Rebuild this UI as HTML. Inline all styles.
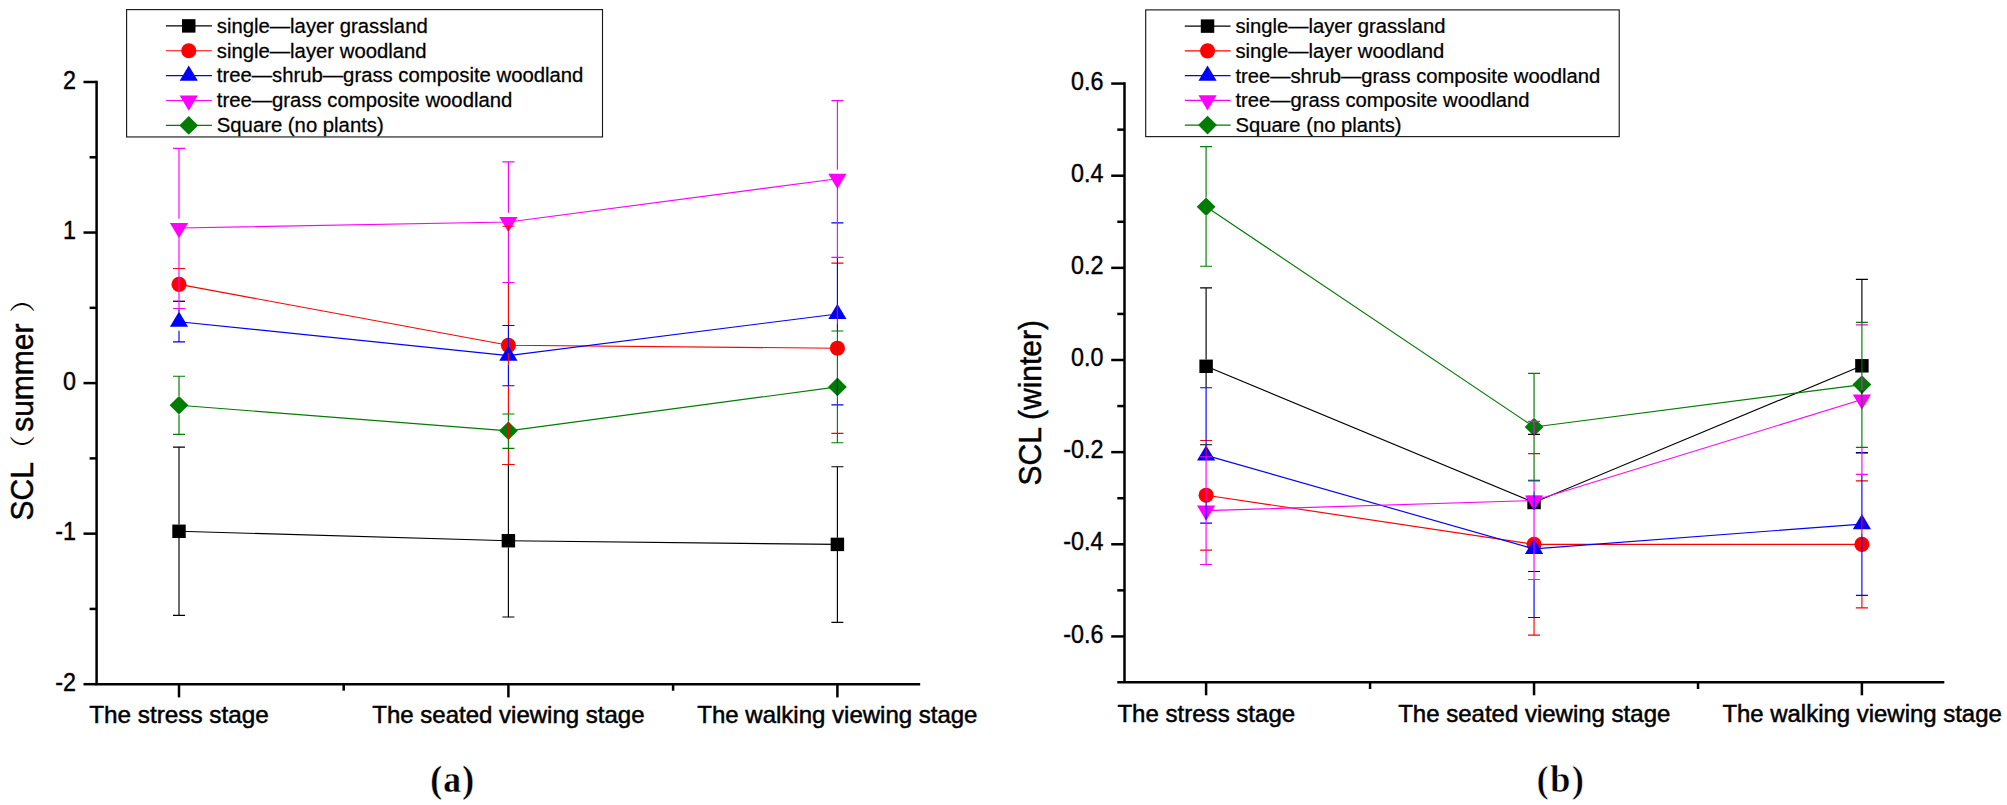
<!DOCTYPE html>
<html lang="en"><head><meta charset="utf-8"><title>SCL summer and winter</title>
<style>html,body{margin:0;padding:0;background:#fff}svg{display:block}</style></head>
<body>
<svg width="2007" height="805" viewBox="0 0 2007 805">
<rect width="2007" height="805" fill="#fff"/>
<polyline points="179.00,531.30 508.40,540.70 837.40,544.40" fill="none" stroke="#000000" stroke-width="1.15"/>
<rect x="172.28" y="524.57" width="13.45" height="13.45" fill="#000000"/>
<rect x="501.67" y="533.98" width="13.45" height="13.45" fill="#000000"/>
<rect x="830.67" y="537.67" width="13.45" height="13.45" fill="#000000"/>
<polyline points="179.00,284.40 508.40,345.30 837.40,348.20" fill="none" stroke="#ff0000" stroke-width="1.15"/>
<circle cx="179.00" cy="284.40" r="7.55" fill="#ff0000"/>
<circle cx="508.40" cy="345.30" r="7.55" fill="#ff0000"/>
<circle cx="837.40" cy="348.20" r="7.55" fill="#ff0000"/>
<polyline points="179.00,321.70 508.40,355.60 837.40,314.00" fill="none" stroke="#0000ff" stroke-width="1.15"/>
<polygon points="179.00,311.50 169.90,326.80 188.10,326.80" fill="#0000ff"/>
<polygon points="508.40,345.40 499.30,360.70 517.50,360.70" fill="#0000ff"/>
<polygon points="837.40,303.80 828.30,319.10 846.50,319.10" fill="#0000ff"/>
<polyline points="179.00,228.00 508.40,222.00 837.40,178.80" fill="none" stroke="#ff00ff" stroke-width="1.15"/>
<polygon points="179.00,238.20 169.90,222.90 188.10,222.90" fill="#ff00ff"/>
<polygon points="508.40,232.20 499.30,216.90 517.50,216.90" fill="#ff00ff"/>
<polygon points="837.40,189.00 828.30,173.70 846.50,173.70" fill="#ff00ff"/>
<polyline points="179.00,405.30 508.40,430.80 837.40,386.90" fill="none" stroke="#007c00" stroke-width="1.15"/>
<polygon points="179.00,396.00 188.40,405.30 179.00,414.60 169.60,405.30" fill="#007c00"/>
<polygon points="508.40,421.50 517.80,430.80 508.40,440.10 499.00,430.80" fill="#007c00"/>
<polygon points="837.40,377.60 846.80,386.90 837.40,396.20 828.00,386.90" fill="#007c00"/>
<path d="M179.00,447.10V524.60M179.00,538.00V615.40M173.00,447.10h12M173.00,615.40h12" fill="none" stroke="#000000" stroke-width="1.15"/>
<path d="M508.40,464.50V534.00M508.40,547.40V617.00M502.40,464.50h12M502.40,617.00h12" fill="none" stroke="#000000" stroke-width="1.15"/>
<path d="M837.40,466.70V537.70M837.40,551.10V622.30M831.40,466.70h12M831.40,622.30h12" fill="none" stroke="#000000" stroke-width="1.15"/>
<path d="M173.00,268.50h12M173.00,301.20h12" fill="none" stroke="#ff0000" stroke-width="1.15"/>
<path d="M508.40,226.20V231.15M508.40,282.50V325.50M508.40,352.80V364.75M508.40,385.70V414.00M508.40,421.50V440.10M508.40,448.30V464.50M502.40,226.20h12M502.40,464.50h12" fill="none" stroke="#ff0000" stroke-width="1.15"/>
<path d="M837.40,304.85V323.15M831.40,263.10h12M831.40,433.40h12" fill="none" stroke="#ff0000" stroke-width="1.15"/>
<path d="M179.00,308.50V312.55M179.00,330.85V341.80M173.00,301.40h12M173.00,341.80h12" fill="none" stroke="#0000ff" stroke-width="1.15"/>
<path d="M508.40,325.50V346.45M508.40,364.75V385.70M502.40,325.50h12M502.40,385.70h12" fill="none" stroke="#0000ff" stroke-width="1.15"/>
<path d="M837.40,257.30V304.85M837.40,323.15V331.00M837.40,377.60V396.20M831.40,222.90h12M831.40,404.90h12" fill="none" stroke="#0000ff" stroke-width="1.15"/>
<path d="M179.00,148.40V218.85M179.00,237.15V308.50M173.00,148.40h12M173.00,308.50h12" fill="none" stroke="#ff00ff" stroke-width="1.15"/>
<path d="M508.40,161.80V212.85M508.40,231.15V282.50M502.40,161.80h12M502.40,282.50h12" fill="none" stroke="#ff00ff" stroke-width="1.15"/>
<path d="M837.40,100.60V169.65M837.40,187.95V257.30M831.40,100.60h12M831.40,257.30h12" fill="none" stroke="#ff00ff" stroke-width="1.15"/>
<path d="M179.00,376.20V396.00M179.00,414.60V434.30M173.00,376.20h12M173.00,434.30h12" fill="none" stroke="#007c00" stroke-width="1.15"/>
<path d="M508.40,414.00V421.50M508.40,440.10V448.30M502.40,414.00h12M502.40,448.30h12" fill="none" stroke="#007c00" stroke-width="1.15"/>
<path d="M837.40,331.00V377.60M837.40,396.20V442.70M831.40,331.00h12M831.40,442.70h12" fill="none" stroke="#007c00" stroke-width="1.15"/>
<path d="M96.6,80.75V684.20" stroke="#000" stroke-width="2.5" fill="none"/>
<path d="M95.35,684.2H920.2" stroke="#000" stroke-width="2.5" fill="none"/>
<path d="M83.5,82.00H96.6" stroke="#000" stroke-width="2.5"/>
<text transform="translate(75.9,88.55) scale(0.904,1)" text-anchor="end" font-family='"Liberation Sans", "Noto Sans CJK SC", sans-serif' font-size="25.8" fill="#000" stroke="#000" stroke-width="0.4">2</text>
<path d="M89.6,157.28H96.6" stroke="#000" stroke-width="2.5"/>
<path d="M83.5,232.55H96.6" stroke="#000" stroke-width="2.5"/>
<text transform="translate(75.9,239.10) scale(0.904,1)" text-anchor="end" font-family='"Liberation Sans", "Noto Sans CJK SC", sans-serif' font-size="25.8" fill="#000" stroke="#000" stroke-width="0.4">1</text>
<path d="M89.6,307.83H96.6" stroke="#000" stroke-width="2.5"/>
<path d="M83.5,383.10H96.6" stroke="#000" stroke-width="2.5"/>
<text transform="translate(75.9,389.65) scale(0.904,1)" text-anchor="end" font-family='"Liberation Sans", "Noto Sans CJK SC", sans-serif' font-size="25.8" fill="#000" stroke="#000" stroke-width="0.4">0</text>
<path d="M89.6,458.38H96.6" stroke="#000" stroke-width="2.5"/>
<path d="M83.5,533.65H96.6" stroke="#000" stroke-width="2.5"/>
<text transform="translate(75.9,540.20) scale(0.904,1)" text-anchor="end" font-family='"Liberation Sans", "Noto Sans CJK SC", sans-serif' font-size="25.8" fill="#000" stroke="#000" stroke-width="0.4">-1</text>
<path d="M89.6,608.93H96.6" stroke="#000" stroke-width="2.5"/>
<path d="M83.5,684.20H96.6" stroke="#000" stroke-width="2.5"/>
<text transform="translate(75.9,690.75) scale(0.904,1)" text-anchor="end" font-family='"Liberation Sans", "Noto Sans CJK SC", sans-serif' font-size="25.8" fill="#000" stroke="#000" stroke-width="0.4">-2</text>
<path d="M179.00,684.2V697.4" stroke="#000" stroke-width="2.5"/>
<path d="M508.40,684.2V697.4" stroke="#000" stroke-width="2.5"/>
<path d="M837.40,684.2V697.4" stroke="#000" stroke-width="2.5"/>
<path d="M343.70,684.2V690.7" stroke="#000" stroke-width="2.5"/>
<path d="M673.10,684.2V690.7" stroke="#000" stroke-width="2.5"/>
<text x="179.00" y="723.4" text-anchor="middle" font-family='"Liberation Sans", "Noto Sans CJK SC", sans-serif' font-size="24.3" fill="#000" stroke="#000" stroke-width="0.5">The stress stage</text>
<text x="508.40" y="723.4" text-anchor="middle" font-family='"Liberation Sans", "Noto Sans CJK SC", sans-serif' font-size="24.0" fill="#000" stroke="#000" stroke-width="0.5">The seated viewing stage</text>
<text x="837.40" y="723.4" text-anchor="middle" font-family='"Liberation Sans", "Noto Sans CJK SC", sans-serif' font-size="24.0" fill="#000" stroke="#000" stroke-width="0.5">The walking viewing stage</text>
<text transform="translate(33.2,520.4) rotate(-90) scale(1,1.075)" font-family='"Liberation Sans", "Noto Sans CJK SC", sans-serif' font-size="30" fill="#000" stroke="#000" stroke-width="0.45">SCL</text>
<text transform="translate(31.7,462.9) rotate(-90) scale(1.1,1)" font-family='"Noto Serif CJK SC", "Liberation Serif", serif' font-size="25.3" fill="#000">（</text>
<text transform="translate(33.2,431.8) rotate(-90) scale(1,1.075)" font-family='"Liberation Sans", "Noto Sans CJK SC", sans-serif' font-size="30" fill="#000" stroke="#000" stroke-width="0.45">summer</text>
<text transform="translate(31.8,312.65) rotate(-90) scale(1.1,1)" font-family='"Noto Serif CJK SC", "Liberation Serif", serif' font-size="25.3" fill="#000">）</text>
<text transform="translate(430.3,792.0) scale(0.94,1)" letter-spacing="1.2" font-family='"Liberation Serif", "Noto Serif CJK SC", serif' font-weight="bold" font-size="37.8" fill="#000" stroke="#fff" stroke-width="0.3">(a)</text>
<rect x="126.60" y="9.60" width="475.90" height="127.35" fill="#fff" stroke="#1a1a1a" stroke-width="1.15"/>
<line x1="165.90" y1="25.90" x2="211.90" y2="25.90" stroke="#000000" stroke-width="1.15"/>
<rect x="182.03" y="19.17" width="13.45" height="13.45" fill="#000000"/>
<text transform="translate(216.80,32.75) scale(1.0415,1.0)" font-family='"Liberation Sans", "Noto Sans CJK SC", sans-serif' font-size="19.5" fill="#000" stroke="#000" stroke-width="0.25">single—layer grassland</text>
<line x1="165.90" y1="50.77" x2="211.90" y2="50.77" stroke="#ff0000" stroke-width="1.15"/>
<circle cx="188.75" cy="50.77" r="7.55" fill="#ff0000"/>
<text transform="translate(216.80,57.55) scale(1.0415,1.0)" font-family='"Liberation Sans", "Noto Sans CJK SC", sans-serif' font-size="19.5" fill="#000" stroke="#000" stroke-width="0.25">single—layer woodland</text>
<line x1="165.90" y1="75.64" x2="211.90" y2="75.64" stroke="#0000ff" stroke-width="1.15"/>
<polygon points="188.75,65.44 179.65,80.74 197.85,80.74" fill="#0000ff"/>
<text transform="translate(216.80,82.35) scale(1.0415,1.0)" font-family='"Liberation Sans", "Noto Sans CJK SC", sans-serif' font-size="19.5" fill="#000" stroke="#000" stroke-width="0.25">tree—shrub—grass composite woodland</text>
<line x1="165.90" y1="100.51" x2="211.90" y2="100.51" stroke="#ff00ff" stroke-width="1.15"/>
<polygon points="188.75,110.71 179.65,95.41 197.85,95.41" fill="#ff00ff"/>
<text transform="translate(216.80,107.15) scale(1.0415,1.0)" font-family='"Liberation Sans", "Noto Sans CJK SC", sans-serif' font-size="19.5" fill="#000" stroke="#000" stroke-width="0.25">tree—grass composite woodland</text>
<line x1="165.90" y1="125.38" x2="211.90" y2="125.38" stroke="#007c00" stroke-width="1.15"/>
<polygon points="188.75,116.08 198.15,125.38 188.75,134.68 179.35,125.38" fill="#007c00"/>
<text transform="translate(216.80,131.95) scale(1.0415,1.0)" font-family='"Liberation Sans", "Noto Sans CJK SC", sans-serif' font-size="19.5" fill="#000" stroke="#000" stroke-width="0.25">Square (no plants)</text>
<polyline points="1206.10,366.30 1534.05,502.50 1861.90,365.80" fill="none" stroke="#000000" stroke-width="1.15"/>
<rect x="1199.38" y="359.57" width="13.45" height="13.45" fill="#000000"/>
<rect x="1527.33" y="495.77" width="13.45" height="13.45" fill="#000000"/>
<rect x="1855.18" y="359.07" width="13.45" height="13.45" fill="#000000"/>
<polyline points="1206.10,495.20 1534.05,544.30 1861.90,544.40" fill="none" stroke="#ff0000" stroke-width="1.15"/>
<circle cx="1206.10" cy="495.20" r="7.55" fill="#ff0000"/>
<circle cx="1534.05" cy="544.30" r="7.55" fill="#ff0000"/>
<circle cx="1861.90" cy="544.40" r="7.55" fill="#ff0000"/>
<polyline points="1206.10,455.40 1534.05,548.90 1861.90,524.10" fill="none" stroke="#0000ff" stroke-width="1.15"/>
<polygon points="1206.10,445.20 1197.00,460.50 1215.20,460.50" fill="#0000ff"/>
<polygon points="1534.05,538.70 1524.95,554.00 1543.15,554.00" fill="#0000ff"/>
<polygon points="1861.90,513.90 1852.80,529.20 1871.00,529.20" fill="#0000ff"/>
<polyline points="1206.10,510.60 1534.05,500.50 1861.90,399.50" fill="none" stroke="#ff00ff" stroke-width="1.15"/>
<polygon points="1206.10,520.80 1197.00,505.50 1215.20,505.50" fill="#ff00ff"/>
<polygon points="1534.05,510.70 1524.95,495.40 1543.15,495.40" fill="#ff00ff"/>
<polygon points="1861.90,409.70 1852.80,394.40 1871.00,394.40" fill="#ff00ff"/>
<polyline points="1206.10,206.70 1534.05,427.00 1861.90,384.60" fill="none" stroke="#007c00" stroke-width="1.15"/>
<polygon points="1206.10,197.40 1215.50,206.70 1206.10,216.00 1196.70,206.70" fill="#007c00"/>
<polygon points="1534.05,417.70 1543.45,427.00 1534.05,436.30 1524.65,427.00" fill="#007c00"/>
<polygon points="1861.90,375.30 1871.30,384.60 1861.90,393.90 1852.50,384.60" fill="#007c00"/>
<path d="M1206.10,287.80V359.60M1206.10,373.00V387.70M1200.10,287.80h12M1200.10,444.70h12" fill="none" stroke="#000000" stroke-width="1.15"/>
<path d="M1528.05,434.30h12M1528.05,571.50h12" fill="none" stroke="#000000" stroke-width="1.15"/>
<path d="M1861.90,279.40V322.30M1861.90,390.35V393.90M1855.90,279.40h12M1855.90,452.60h12" fill="none" stroke="#000000" stroke-width="1.15"/>
<path d="M1206.10,446.25V456.70M1200.10,440.50h12M1200.10,550.10h12" fill="none" stroke="#ff0000" stroke-width="1.15"/>
<path d="M1534.05,617.50V635.10M1528.05,453.60h12M1528.05,635.10h12" fill="none" stroke="#ff0000" stroke-width="1.15"/>
<path d="M1861.90,514.95V533.25M1861.90,595.30V607.90M1855.90,480.90h12M1855.90,607.90h12" fill="none" stroke="#ff0000" stroke-width="1.15"/>
<path d="M1206.10,387.70V446.25M1206.10,501.45V519.75M1200.10,387.70h12M1200.10,523.10h12" fill="none" stroke="#0000ff" stroke-width="1.15"/>
<path d="M1534.05,491.35V509.65M1534.05,579.50V617.50M1528.05,480.20h12M1528.05,617.50h12" fill="none" stroke="#0000ff" stroke-width="1.15"/>
<path d="M1861.90,474.30V514.95M1861.90,533.25V595.30M1855.90,453.00h12M1855.90,595.30h12" fill="none" stroke="#0000ff" stroke-width="1.15"/>
<path d="M1206.10,456.70V501.45M1206.10,519.75V564.50M1200.10,456.70h12M1200.10,564.50h12" fill="none" stroke="#ff00ff" stroke-width="1.15"/>
<path d="M1534.05,421.40V436.30M1534.05,481.00V491.35M1534.05,509.65V579.50M1528.05,421.40h12M1528.05,579.50h12" fill="none" stroke="#ff00ff" stroke-width="1.15"/>
<path d="M1861.90,375.30V390.35M1861.90,447.30V474.30M1855.90,324.80h12M1855.90,474.30h12" fill="none" stroke="#ff00ff" stroke-width="1.15"/>
<path d="M1206.10,146.60V197.40M1206.10,216.00V266.20M1200.10,146.60h12M1200.10,266.20h12" fill="none" stroke="#007c00" stroke-width="1.15"/>
<path d="M1534.05,373.40V417.70M1534.05,436.30V481.00M1528.05,373.40h12M1528.05,481.00h12" fill="none" stroke="#007c00" stroke-width="1.15"/>
<path d="M1861.90,322.30V375.30M1861.90,393.90V447.30M1855.90,322.30h12M1855.90,447.30h12" fill="none" stroke="#007c00" stroke-width="1.15"/>
<path d="M1124.5,82.33V682.30" stroke="#000" stroke-width="2.5" fill="none"/>
<path d="M1117.3,682.3H1944.3" stroke="#000" stroke-width="2.5" fill="none"/>
<path d="M1111.2,83.58H1124.5" stroke="#000" stroke-width="2.5"/>
<text transform="translate(1103.4,89.78) scale(0.904,1)" text-anchor="end" font-family='"Liberation Sans", "Noto Sans CJK SC", sans-serif' font-size="25.8" fill="#000" stroke="#000" stroke-width="0.4">0.6</text>
<path d="M1117.3,129.65H1124.5" stroke="#000" stroke-width="2.5"/>
<path d="M1111.2,175.72H1124.5" stroke="#000" stroke-width="2.5"/>
<text transform="translate(1103.4,181.92) scale(0.904,1)" text-anchor="end" font-family='"Liberation Sans", "Noto Sans CJK SC", sans-serif' font-size="25.8" fill="#000" stroke="#000" stroke-width="0.4">0.4</text>
<path d="M1117.3,221.79H1124.5" stroke="#000" stroke-width="2.5"/>
<path d="M1111.2,267.86H1124.5" stroke="#000" stroke-width="2.5"/>
<text transform="translate(1103.4,274.06) scale(0.904,1)" text-anchor="end" font-family='"Liberation Sans", "Noto Sans CJK SC", sans-serif' font-size="25.8" fill="#000" stroke="#000" stroke-width="0.4">0.2</text>
<path d="M1117.3,313.93H1124.5" stroke="#000" stroke-width="2.5"/>
<path d="M1111.2,360.00H1124.5" stroke="#000" stroke-width="2.5"/>
<text transform="translate(1103.4,366.20) scale(0.904,1)" text-anchor="end" font-family='"Liberation Sans", "Noto Sans CJK SC", sans-serif' font-size="25.8" fill="#000" stroke="#000" stroke-width="0.4">0.0</text>
<path d="M1117.3,406.07H1124.5" stroke="#000" stroke-width="2.5"/>
<path d="M1111.2,452.14H1124.5" stroke="#000" stroke-width="2.5"/>
<text transform="translate(1103.4,458.34) scale(0.904,1)" text-anchor="end" font-family='"Liberation Sans", "Noto Sans CJK SC", sans-serif' font-size="25.8" fill="#000" stroke="#000" stroke-width="0.4">-0.2</text>
<path d="M1117.3,498.21H1124.5" stroke="#000" stroke-width="2.5"/>
<path d="M1111.2,544.28H1124.5" stroke="#000" stroke-width="2.5"/>
<text transform="translate(1103.4,550.48) scale(0.904,1)" text-anchor="end" font-family='"Liberation Sans", "Noto Sans CJK SC", sans-serif' font-size="25.8" fill="#000" stroke="#000" stroke-width="0.4">-0.4</text>
<path d="M1117.3,590.35H1124.5" stroke="#000" stroke-width="2.5"/>
<path d="M1111.2,636.42H1124.5" stroke="#000" stroke-width="2.5"/>
<text transform="translate(1103.4,642.62) scale(0.904,1)" text-anchor="end" font-family='"Liberation Sans", "Noto Sans CJK SC", sans-serif' font-size="25.8" fill="#000" stroke="#000" stroke-width="0.4">-0.6</text>
<path d="M1206.10,682.3V695.3" stroke="#000" stroke-width="2.5"/>
<path d="M1534.05,682.3V695.3" stroke="#000" stroke-width="2.5"/>
<path d="M1861.90,682.3V695.3" stroke="#000" stroke-width="2.5"/>
<path d="M1370.07,682.3V689.0" stroke="#000" stroke-width="2.5"/>
<path d="M1698.03,682.3V689.0" stroke="#000" stroke-width="2.5"/>
<text x="1206.30" y="721.5" text-anchor="middle" font-family='"Liberation Sans", "Noto Sans CJK SC", sans-serif' font-size="24.05" fill="#000" stroke="#000" stroke-width="0.5">The stress stage</text>
<text x="1534.25" y="721.5" text-anchor="middle" font-family='"Liberation Sans", "Noto Sans CJK SC", sans-serif' font-size="24.0" fill="#000" stroke="#000" stroke-width="0.5">The seated viewing stage</text>
<text x="1862.10" y="721.5" text-anchor="middle" font-family='"Liberation Sans", "Noto Sans CJK SC", sans-serif' font-size="23.95" fill="#000" stroke="#000" stroke-width="0.5">The walking viewing stage</text>
<text transform="translate(1041,485.5) rotate(-90) scale(1,1.075)" font-family='"Liberation Sans", "Noto Sans CJK SC", sans-serif' font-size="30" fill="#000" stroke="#000" stroke-width="0.45">SCL (winter)</text>
<text transform="translate(1536.6,792.3) scale(0.992,1)" letter-spacing="1.2" font-family='"Liberation Serif", "Noto Serif CJK SC", serif' font-weight="bold" font-size="37.2" fill="#000" stroke="#fff" stroke-width="0.6">(b)</text>
<rect x="1145.70" y="9.90" width="473.52" height="126.71" fill="#fff" stroke="#1a1a1a" stroke-width="1.15"/>
<line x1="1184.80" y1="26.12" x2="1230.57" y2="26.12" stroke="#000000" stroke-width="1.15"/>
<rect x="1200.81" y="19.39" width="13.45" height="13.45" fill="#000000"/>
<text transform="translate(1235.45,33.43) scale(1.0363,0.995)" font-family='"Liberation Sans", "Noto Sans CJK SC", sans-serif' font-size="19.5" fill="#000" stroke="#000" stroke-width="0.25">single—layer grassland</text>
<line x1="1184.80" y1="50.86" x2="1230.57" y2="50.86" stroke="#ff0000" stroke-width="1.15"/>
<circle cx="1207.54" cy="50.86" r="7.55" fill="#ff0000"/>
<text transform="translate(1235.45,58.11) scale(1.0363,0.995)" font-family='"Liberation Sans", "Noto Sans CJK SC", sans-serif' font-size="19.5" fill="#000" stroke="#000" stroke-width="0.25">single—layer woodland</text>
<line x1="1184.80" y1="75.61" x2="1230.57" y2="75.61" stroke="#0000ff" stroke-width="1.15"/>
<polygon points="1207.54,65.41 1198.44,80.71 1216.64,80.71" fill="#0000ff"/>
<text transform="translate(1235.45,82.79) scale(1.0363,0.995)" font-family='"Liberation Sans", "Noto Sans CJK SC", sans-serif' font-size="19.5" fill="#000" stroke="#000" stroke-width="0.25">tree—shrub—grass composite woodland</text>
<line x1="1184.80" y1="100.36" x2="1230.57" y2="100.36" stroke="#ff00ff" stroke-width="1.15"/>
<polygon points="1207.54,110.56 1198.44,95.26 1216.64,95.26" fill="#ff00ff"/>
<text transform="translate(1235.45,107.46) scale(1.0363,0.995)" font-family='"Liberation Sans", "Noto Sans CJK SC", sans-serif' font-size="19.5" fill="#000" stroke="#000" stroke-width="0.25">tree—grass composite woodland</text>
<line x1="1184.80" y1="125.10" x2="1230.57" y2="125.10" stroke="#007c00" stroke-width="1.15"/>
<polygon points="1207.54,115.80 1216.94,125.10 1207.54,134.40 1198.14,125.10" fill="#007c00"/>
<text transform="translate(1235.45,132.14) scale(1.0363,0.995)" font-family='"Liberation Sans", "Noto Sans CJK SC", sans-serif' font-size="19.5" fill="#000" stroke="#000" stroke-width="0.25">Square (no plants)</text>
</svg>
</body></html>
